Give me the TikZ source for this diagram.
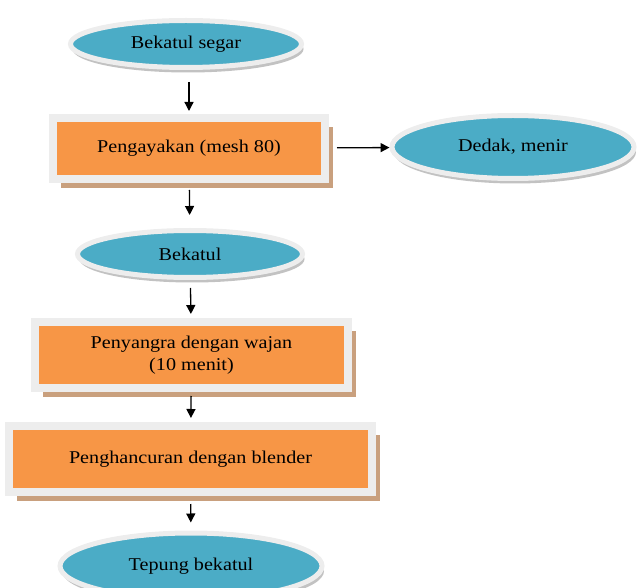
\documentclass[tikz,border=0pt]{standalone}
\usepackage{fontspec}
\setmainfont[FakeStretch=1.12]{Liberation Serif}
\usetikzlibrary{arrows.meta,positioning,shapes.geometric,shadows}
\definecolor{sky}{HTML}{4BACC6}
\definecolor{peach}{HTML}{F79646}
\definecolor{rim}{HTML}{EDEDED}
\definecolor{tan}{HTML}{C9A07E}

\begin{document}
\begin{tikzpicture}[x=1pt,y=-1pt,font=\fontsize{18}{22}\selectfont,>={Triangle[length=9pt,width=9pt]}]
  \tikzset{oval/.style={ellipse,draw=rim,line width=5pt,fill=sky,inner sep=0pt,
      drop shadow={shadow xshift=2pt,shadow yshift=-5pt,fill=black!40,opacity=.6}},
    stage/.style={rectangle,draw=rim,line width=8pt,fill=peach,inner sep=0pt,align=center,
      drop shadow={shadow xshift=8pt,shadow yshift=-9pt,fill=tan,opacity=1}},
    flow/.style={->,line width=1.3pt}}
  \useasboundingbox (0,0) rectangle (638,588);
  \clip (0,0) rectangle (638,588);
  \node[oval,minimum width=231,minimum height=47] (segar) at (186,44) {Bekatul segar};
  \node[stage,minimum width=272,minimum height=61] (ayak) at (189,148.5) {Pengayakan (mesh 80)};
  \node[oval,minimum width=242,minimum height=63] (dedak) at (513,147) {Dedak, menir};
  \node[oval,minimum width=225,minimum height=47] (bekatul) at (190,254) {Bekatul};
  \node[stage,minimum width=313,minimum height=66] (sangrai) at (191.5,355) {Penyangra dengan wajan\\(10 menit)};
  \node[stage,minimum width=363,minimum height=66] (hancur) at (190.5,459) {Penghancuran dengan blender};
  \node[oval,minimum width=262,minimum height=66] (tepung) at (191,566) {Tepung bekatul};
  \draw[flow,shorten <=12pt,shorten >=3pt] (segar.south -| ayak.north) -- (ayak.north);
  \draw[flow,shorten <=8pt] (ayak) -- (dedak);
  \draw[flow,shorten <=7pt,shorten >=13pt] (ayak) -- (bekatul);
  \draw[flow,shorten <=8pt,shorten >=4pt] (bekatul) -- (sangrai);
  \draw[flow,shorten <=4pt,shorten >=4pt] (sangrai) -- (hancur);
  \draw[flow,shorten <=8pt,shorten >=8pt] (hancur) -- (tepung);
\end{tikzpicture}
\end{document}
